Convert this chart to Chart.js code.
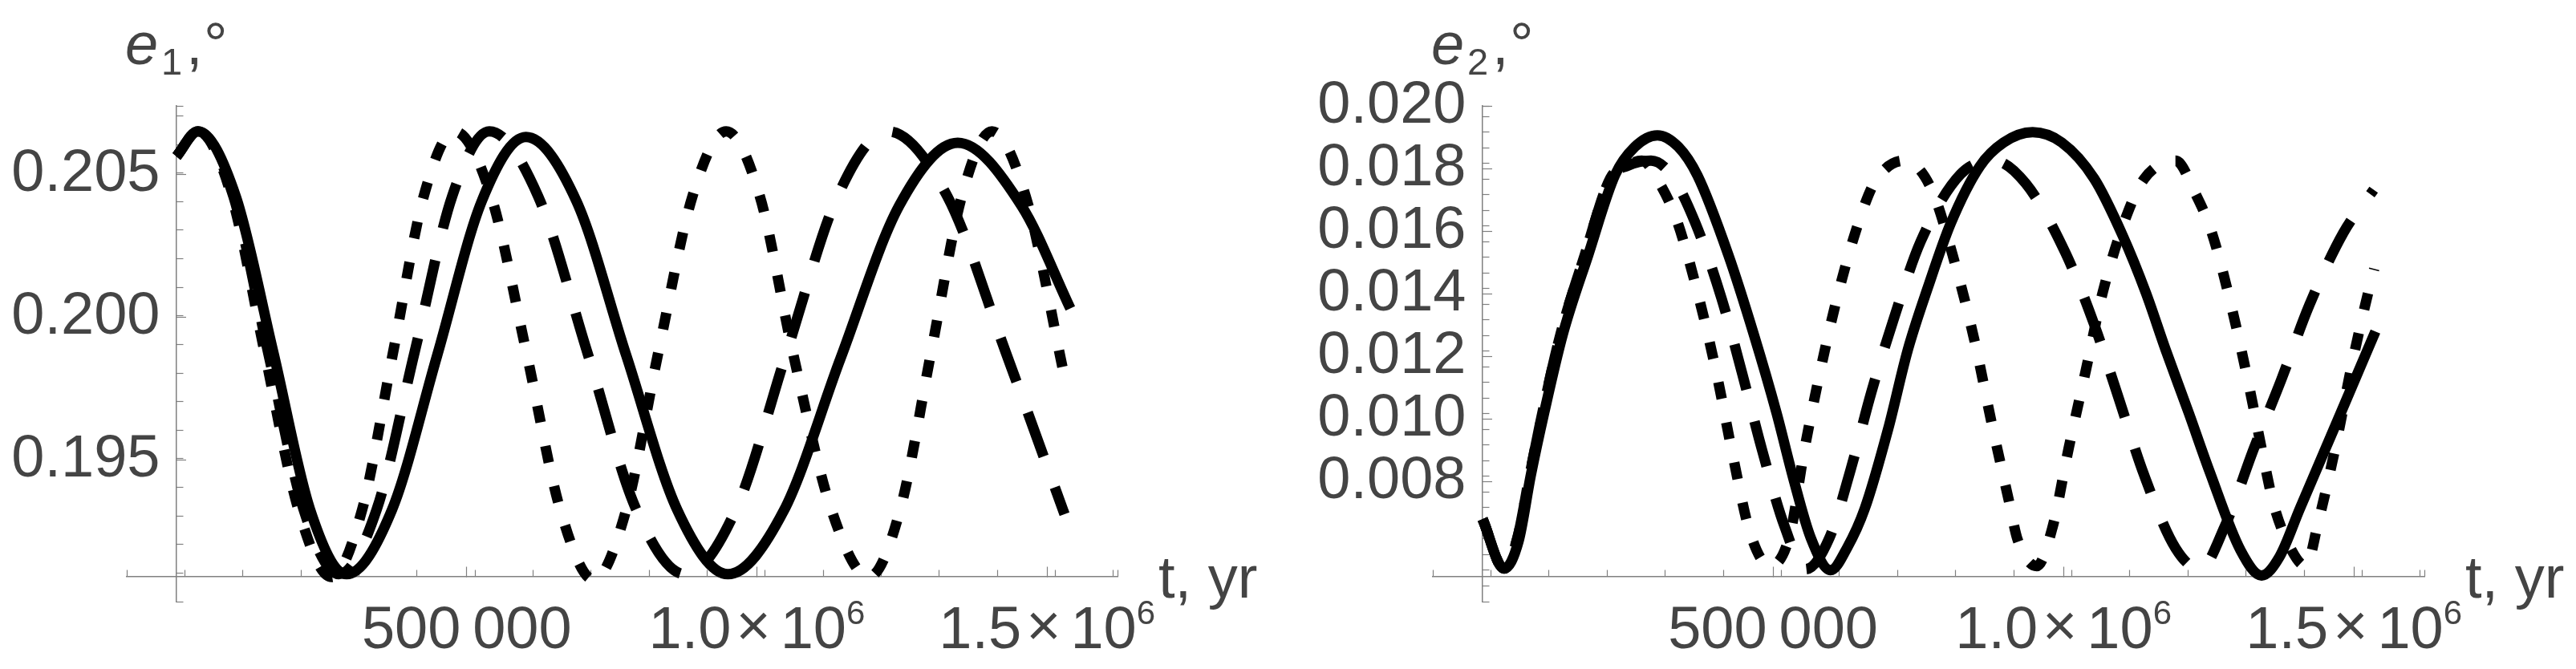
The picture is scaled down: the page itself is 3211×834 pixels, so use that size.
<!DOCTYPE html>
<html>
<head>
<meta charset="utf-8">
<script src="https://cdn.jsdelivr.net/npm/chart.js@4.4.1/dist/chart.umd.min.js"></script>
<style>
  html, body { margin: 0; padding: 0; background: #fff; }
  #wrap { position: relative; width: 3211px; height: 834px; overflow: hidden; }
  canvas { position: absolute; top: 0; }
</style>
</head>
<body>
<div id="wrap">
  <canvas id="chartE1" width="1605" height="834" style="left:0"></canvas>
  <canvas id="chartE2" width="1606" height="834" style="left:1605px"></canvas>
</div>
<script>
// time in 10^6 yr
const tSolid1 = [0, 0.037, 0.102, 0.167, 0.230, 0.293, 0.371, 0.449, 0.526, 0.602, 0.689, 0.775, 0.863, 0.950, 1.046, 1.144, 1.245, 1.346, 1.456, 1.540];
const eSolid1 = [0.20562, 0.20650, 0.20423, 0.19875, 0.19327, 0.19100, 0.19324, 0.19865, 0.20406, 0.20630, 0.20406, 0.19865, 0.19324, 0.19100, 0.19321, 0.19855, 0.20389, 0.20610, 0.20389, 0.20030];

const tDash1 = [0, 0.037, 0.098, 0.158, 0.219, 0.280, 0.345, 0.410, 0.475, 0.539, 0.623, 0.708, 0.792, 0.876, 0.964, 1.051, 1.139, 1.226, 1.328, 1.429, 1.530];
const eDash1 = [0.20562, 0.20650, 0.20423, 0.19875, 0.19327, 0.19100, 0.19327, 0.19875, 0.20423, 0.20650, 0.20423, 0.19875, 0.19327, 0.19100, 0.19327, 0.19875, 0.20423, 0.20650, 0.20423, 0.19875, 0.19310];

const tDot1 = [0, 0.037, 0.095, 0.152, 0.210, 0.267, 0.320, 0.373, 0.426, 0.479, 0.542, 0.603, 0.661, 0.719, 0.775, 0.830, 0.889, 0.947, 1.005, 1.062, 1.128, 1.193, 1.247, 1.300, 1.353, 1.405, 1.463, 1.530];
const eDot1 = [0.20562, 0.20650, 0.20423, 0.19875, 0.19327, 0.19090, 0.19327, 0.19875, 0.20423, 0.20650, 0.20423, 0.19875, 0.19327, 0.19080, 0.19327, 0.19875, 0.20423, 0.20650, 0.20423, 0.19875, 0.19327, 0.19090, 0.19327, 0.19875, 0.20423, 0.20650, 0.20423, 0.19790];

const tSolid2 = [0, 0.037, 0.062, 0.083, 0.106, 0.138, 0.182, 0.228, 0.262, 0.301, 0.337, 0.370, 0.423, 0.467, 0.506, 0.535, 0.565, 0.599, 0.628, 0.658, 0.698, 0.732, 0.767, 0.806, 0.856, 0.897, 0.947, 0.997, 1.053, 1.102, 1.142, 1.176, 1.216, 1.252, 1.305, 1.341, 1.372, 1.407, 1.477, 1.537];
const eSolid2 = [0.0068, 0.00522, 0.0061, 0.0082, 0.0102, 0.0127, 0.01525, 0.0178, 0.0187, 0.01907, 0.0187, 0.01778, 0.01525, 0.0127, 0.0102, 0.0081, 0.0062, 0.00517, 0.0059, 0.00714, 0.00967, 0.01221, 0.01423, 0.01626, 0.01808, 0.01884, 0.01917, 0.01884, 0.01768, 0.01586, 0.01403, 0.01221, 0.01018, 0.0083, 0.0058, 0.0050, 0.0056, 0.00714, 0.01018, 0.0128];

const tDash2 = [0, 0.037, 0.060, 0.081, 0.103, 0.134, 0.176, 0.220, 0.250, 0.290, 0.325, 0.366, 0.411, 0.447, 0.481, 0.520, 0.556, 0.597, 0.634, 0.669, 0.709, 0.754, 0.823, 0.880, 0.935, 1.003, 1.053, 1.096, 1.139, 1.193, 1.235, 1.278, 1.328, 1.375, 1.423, 1.482, 1.534];
const eDash2 = [0.0068, 0.00522, 0.0062, 0.0082, 0.0102, 0.0127, 0.01525, 0.0177, 0.0181, 0.01826, 0.0178, 0.01628, 0.01388, 0.01145, 0.00902, 0.00656, 0.0052, 0.0062, 0.00841, 0.01084, 0.01327, 0.01567, 0.01783, 0.01826, 0.01753, 0.01533, 0.01302, 0.01061, 0.0082, 0.00587, 0.0052, 0.00658, 0.00907, 0.01126, 0.01363, 0.01596, 0.01733];

const tDot2 = [0, 0.037, 0.060, 0.081, 0.103, 0.134, 0.176, 0.220, 0.248, 0.274, 0.308, 0.336, 0.373, 0.404, 0.431, 0.461, 0.495, 0.529, 0.553, 0.580, 0.611, 0.649, 0.676, 0.726, 0.772, 0.814, 0.848, 0.876, 0.906, 0.921, 0.954, 0.981, 1.009, 1.039, 1.068, 1.110, 1.139, 1.193, 1.228, 1.255, 1.290, 1.320, 1.347, 1.362, 1.390, 1.417, 1.439, 1.469, 1.496, 1.527, 1.535];
const eDot2 = [0.0068, 0.00522, 0.0062, 0.0082, 0.0102, 0.0127, 0.01525, 0.0177, 0.0181, 0.01826, 0.01743, 0.01626, 0.01383, 0.01135, 0.00881, 0.00633, 0.0053, 0.0063, 0.00891, 0.01142, 0.01393, 0.01638, 0.0176, 0.01826, 0.01738, 0.01492, 0.01241, 0.0099, 0.00739, 0.00615, 0.0053, 0.00653, 0.00907, 0.0116, 0.01408, 0.01657, 0.01768, 0.01826, 0.01717, 0.01598, 0.01353, 0.01101, 0.00851, 0.00726, 0.0059, 0.0053, 0.00674, 0.00917, 0.0117, 0.01423, 0.0148];

// ticks ('^' marks a superscript)
const xMajorTicks = [0.5, 1.0, 1.5];
const xMajorLabels = ['500\u2009000', '1.0\u00d710^6', '1.5\u00d710^6'];
const yTicks1 = [0.195, 0.200, 0.205];
const yLabels1 = ['0.195', '0.200', '0.205'];
const yTicks2 = [0.008, 0.010, 0.012, 0.014, 0.016, 0.018, 0.020];
const yLabels2 = ['0.008', '0.010', '0.012', '0.014', '0.016', '0.018', '0.020'];

const T_MIN = -0.0857, T_MAX = 1.6213;
const LABEL_COLOR = '#444';
const AXIS_COLOR = '#808080';
const FONT = '"Liberation Sans", Arial, sans-serif';

// x tick labels in Mathematica style, with a raised exponent
function drawXLabel(ctx, text, cx, baseY) {
    const big = '74px ' + FONT, small = '42px ' + FONT;
    const parts = text.split('^');
    ctx.font = big;
    if (parts.length === 1) {
        ctx.textAlign = 'center';
        ctx.fillText(text, cx, baseY);
        return;
    }
    const [mant, base] = parts[0].split('\u00d7');
    const wM = ctx.measureText(mant).width;
    const wX = ctx.measureText('\u00d7').width;
    const wB = ctx.measureText(base).width;
    ctx.font = small;
    const wS = ctx.measureText(parts[1]).width;
    const gap1 = 6, gap2 = 12;
    let x = cx - (wM + gap1 + wX + gap2 + wB + wS) / 2;
    ctx.textAlign = 'left';
    ctx.font = big;
    ctx.fillText(mant, x, baseY); x += wM + gap1;
    ctx.fillText('\u00d7', x, baseY - 3); x += wX + gap2;
    ctx.fillText(base, x, baseY); x += wB;
    ctx.font = small;
    ctx.fillText(parts[1], x, baseY - 30);
}

const axisTitles = {
    id: 'axisTitles',
    afterDraw(chart, args, opts) {
        const ctx = chart.ctx;
        const xs = chart.scales.x;
        const x0 = xs.getPixelForValue(0);
        const yAx = chart.scales.y.getPixelForValue(opts.crossAt);
        ctx.save();
        ctx.fillStyle = LABEL_COLOR;
        ctx.textBaseline = 'alphabetic';
        xMajorTicks.forEach((v, i) => drawXLabel(ctx, xMajorLabels[i], xs.getPixelForValue(v), yAx + 89));
        ctx.textAlign = 'left';
        ctx.font = 'italic 74px ' + FONT;
        ctx.fillText('e', x0 - 64, 80);
        ctx.font = '47px ' + FONT;
        ctx.fillText(opts.sub, x0 - 19, 93);
        ctx.font = '74px ' + FONT;
        ctx.fillText(',', x0 + 12, 80);
        ctx.fillText('\u00b0', x0 + 34, 80);
        ctx.fillText('t, yr', chart.chartArea.right + 51, yAx + 26);
        ctx.restore();
    }
};

function zeroSize(s) {
    if (s.isHorizontal()) s.height = 0; else s.width = 0;
}

function makeChart(id, p) {
    const line = (t, e, dash) => ({
        data: t.map((x, i) => ({ x: x, y: e[i] })),
        borderColor: '#000',
        borderWidth: 13,
        borderDash: dash,
        borderCapStyle: 'butt',
        pointRadius: 0,
        pointHoverRadius: 0,
        fill: false,
        cubicInterpolationMode: 'monotone'
    });
    const tickFont = { family: FONT, size: 74, lineHeight: 1 };
    const tickGrid = len => ({ display: true, drawOnChartArea: false, drawTicks: true, tickLength: len, tickColor: AXIS_COLOR, tickWidth: 1.2 });

    return new Chart(document.getElementById(id), {
        type: 'line',
        data: {
            datasets: [
                line(p.tSolid, p.eSolid, []),
                line(p.tDash, p.eDash, [58, 41]),
                line(p.tDot, p.eDot, [21, 30])
            ]
        },
        options: {
            responsive: false,
            animation: false,
            devicePixelRatio: 1,
            events: [],
            layout: { padding: p.padding, autoPadding: false },
            plugins: {
                legend: { display: false },
                tooltip: { enabled: false },
                axisTitles: { sub: p.sub, crossAt: p.crossAt }
            },
            scales: {
                x: {
                    type: 'linear', min: T_MIN, max: T_MAX, bounds: 'data',
                    position: { y: p.crossAt },
                    border: { display: true, color: AXIS_COLOR, width: 1.5 },
                    grid: tickGrid(-13),
                    ticks: { display: false, autoSkip: false, maxRotation: 0 },
                    afterBuildTicks: s => { s.ticks = xMajorTicks.map(value => ({ value })); },
                    afterFit: zeroSize
                },
                y: {
                    type: 'linear', min: p.yMin, max: p.yMax, bounds: 'data',
                    position: { x: 0 },
                    border: { display: true, color: AXIS_COLOR, width: 1.5 },
                    grid: tickGrid(-13),
                    ticks: {
                        autoSkip: false, padding: 13,
                        font: tickFont, color: LABEL_COLOR,
                        callback: (v, i) => p.yLabels[i] + ' '
                    },
                    afterBuildTicks: s => { s.ticks = p.yTicks.map(value => ({ value })); },
                    afterFit: zeroSize
                },
                xMinor: {
                    type: 'linear', axis: 'x', min: T_MIN, max: T_MAX, bounds: 'data',
                    position: { y: p.crossAt },
                    border: { display: false },
                    grid: tickGrid(-8.5),
                    ticks: { display: false, autoSkip: false, stepSize: 0.1, includeBounds: false },
                    afterFit: zeroSize
                },
                yMinor: {
                    type: 'linear', axis: 'y', min: p.yMin, max: p.yMax, bounds: 'data',
                    position: { x: 0 },
                    border: { display: false },
                    grid: tickGrid(-8.5),
                    ticks: { display: false, autoSkip: false, stepSize: p.yMinorStep, includeBounds: false },
                    afterFit: zeroSize
                }
            }
        },
        plugins: [axisTitles]
    });
}

makeChart('chartE1', {
    tSolid: tSolid1, eSolid: eSolid1, tDash: tDash1, eDash: eDash1, tDot: tDot1, eDot: eDot1,
    yMin: 0.19004, yMax: 0.20739, crossAt: 0.19091, yMinorStep: 0.001,
    yTicks: yTicks1, yLabels: yLabels1, sub: '1',
    padding: { left: 158, right: 212, top: 132, bottom: 84 }
});

makeChart('chartE2', {
    tSolid: tSolid2, eSolid: eSolid2, tDash: tDash2, eDash: eDash2, tDot: tDot2, eDot: eDot2,
    yMin: 0.004164, yMax: 0.02001, crossAt: 0.004956, yMinorStep: 0.0005,
    yTicks: yTicks2, yLabels: yLabels2, sub: '2',
    padding: { left: 181, right: 189, top: 132, bottom: 84 }
});
</script>
</body>
</html>
